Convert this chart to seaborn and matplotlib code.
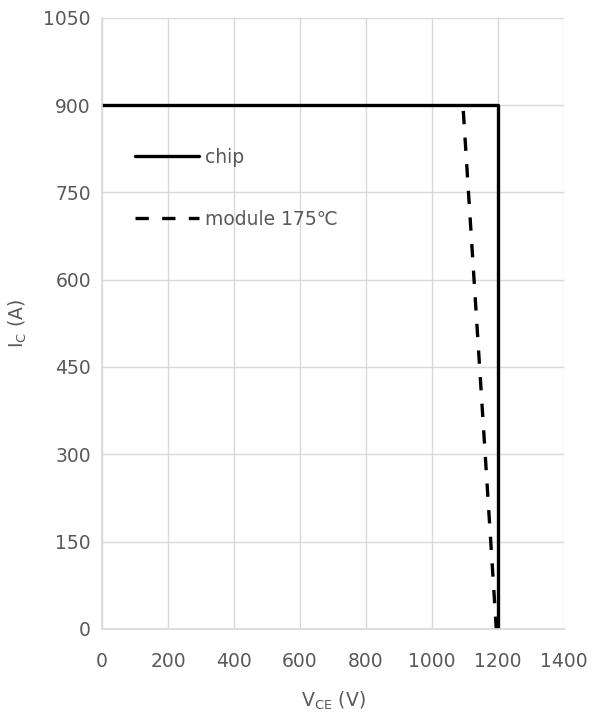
import pandas as pd
import matplotlib.pyplot as plt
import seaborn as sns

# chip SOA
chip_v = [0, 1200, 1200]
chip_i = [900, 900, 0]
# module at 175 C
mod_v = [1095, 1195]
mod_i = [890, 0]

x_ticks = [0, 200, 400, 600, 800, 1000, 1200, 1400]
y_ticks = [0, 150, 300, 450, 600, 750, 900, 1050]


def main():
    sns.set_theme(style='whitegrid')
    plt.rcParams['font.family'] = ['DejaVu Sans']
    grey = '#595959'

    fig = plt.figure(figsize=(5.93, 7.13), dpi=100)
    ax = fig.add_axes([0.172, 0.118, 0.779, 0.857])

    df_chip = pd.DataFrame({'v': chip_v, 'i': chip_i})
    df_mod = pd.DataFrame({'v': mod_v, 'i': mod_i})
    sns.lineplot(data=df_chip, x='v', y='i', sort=False, estimator=None,
                 color='black', linewidth=2.4, ax=ax, label='chip')
    sns.lineplot(data=df_mod, x='v', y='i', sort=False, estimator=None,
                 color='black', linewidth=2.4, ax=ax, label='module 175℃')
    ax.lines[1].set_dashes((4, 4))

    ax.set_xlim(0, 1400)
    ax.set_ylim(0, 1050)
    ax.set_xticks(x_ticks)
    ax.set_yticks(y_ticks)
    ax.grid(True, color='#d9d9d9', linewidth=1.0)
    for s in ax.spines.values():
        s.set_visible(False)
    ax.spines['left'].set_visible(True)
    ax.spines['bottom'].set_visible(True)
    ax.spines['left'].set_color('#d9d9d9')
    ax.spines['bottom'].set_color('#d9d9d9')
    ax.tick_params(axis='both', colors=grey, labelsize=13.5, length=0)
    ax.tick_params(axis='x', pad=17)
    ax.tick_params(axis='y', pad=8)

    ax.set_xlabel(r'V$_\mathregular{CE}$ (V)', color=grey, fontsize=13.5, labelpad=13)
    ax.set_ylabel(r'I$_\mathregular{C}$ (A)', color=grey, fontsize=13.5, labelpad=10)

    leg = ax.legend(loc='upper left', bbox_to_anchor=(0.055, 0.80), frameon=False,
                    fontsize=13.5, handlelength=3.4, handletextpad=0.35,
                    labelspacing=2.3, borderaxespad=0)
    for t in leg.get_texts():
        t.set_color(grey)

    fig.savefig('out.png', dpi=100)
    plt.close(fig)


if __name__ == '__main__':
    main()
